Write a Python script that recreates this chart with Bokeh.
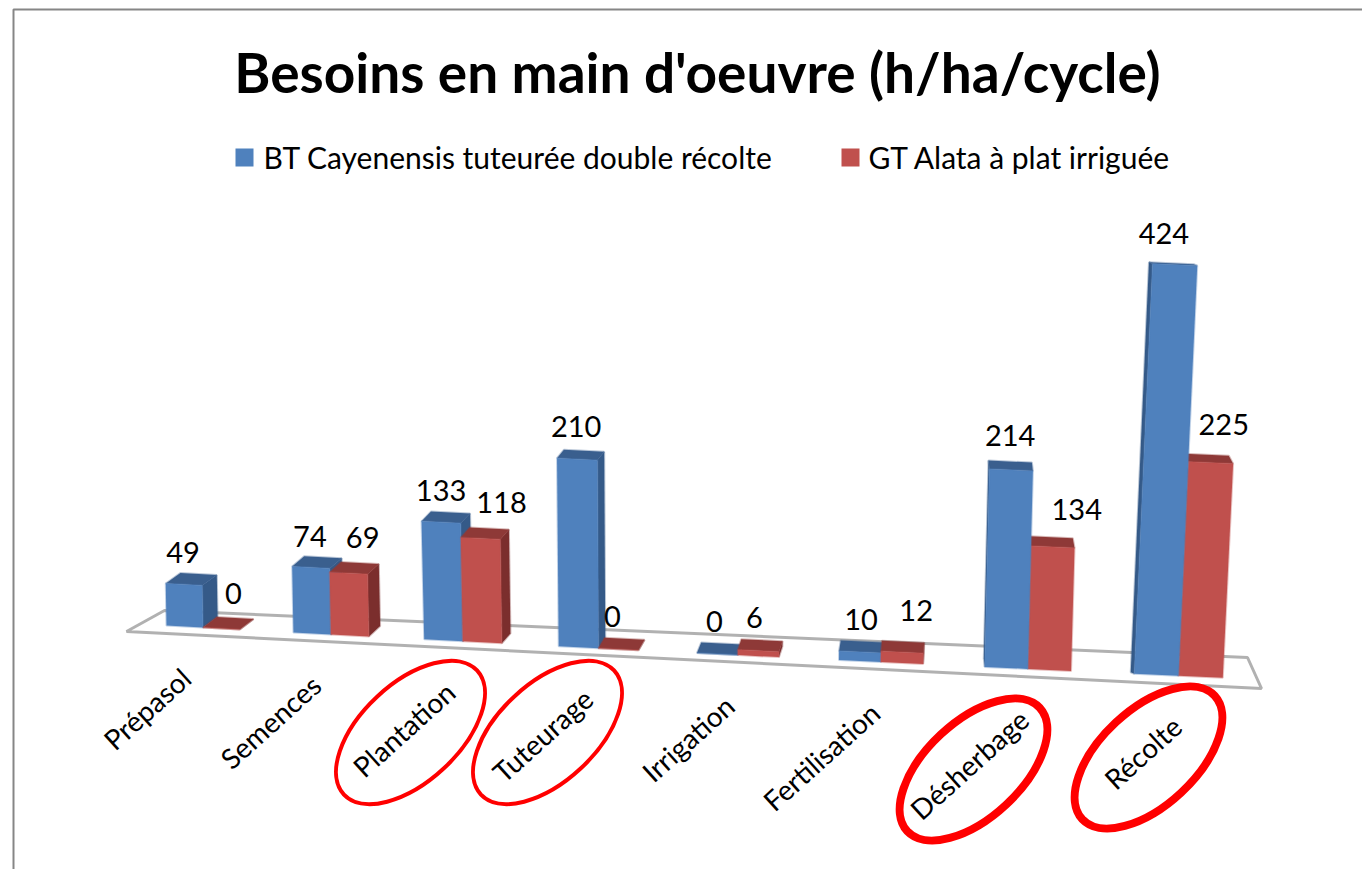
from bokeh.plotting import figure, ColumnDataSource
from bokeh.models import Range1d
from bokeh.embed import file_html
from bokeh.resources import INLINE
from bokeh.core.properties import value
import numpy as np

TITLE = "Besoins en main d'oeuvre (h/ha/cycle)"
CATEGORIES = ["Prépasol", "Semences", "Plantation", "Tuteurage", "Irrigation", "Fertilisation", "Désherbage", "Récolte"]
SERIES_BLUE = "BT Cayenensis tuteurée double récolte"
SERIES_RED = "GT Alata à plat irriguée"
BLUE_VALUES = [49, 74, 133, 210, 0, 10, 214, 424]
RED_VALUES = [0, 69, 118, 0, 6, 12, 134, 225]

# ---- layout of the perspective view (not data) ----
K_BLUE = [0.857, 0.89, 0.887, 0.895, 0.9, 0.9, 0.925, 0.967]
K_RED = [0.88, 0.9, 0.88, 0.9, 0.9, 0.9, 0.918, 0.951]
LABEL_OFF_BLUE = [(-1, -32), (-1, -31), (0, -32), (-1, -33), (-3, -33), (1, -33), (-1, -34), (-11, -31)]
LABEL_OFF_RED = [(12, -35), (14, -36), (21, -36), (-6, -33), (-4, -33), (14, -42), (24, -37), (13, -38)]
BAR_W = 0.29
LEAN_KNOTS_X = [0, 2, 3, 6, 6.6, 7, 7.6]
LEAN_KNOTS_V = [-0.015, -0.02, -0.008, 0.022, 0.026, 0.043, 0.046]
C_BLUE = ("#4F81BD", "#3A5F8E", "#355A88")
C_RED = ("#C0504D", "#8E3937", "#7B2E2D")


def bx(X):
    return 166 + 125.1 * X + 1.88 * X * X


def by(X):
    return 625 + 6.9 * X


def lean(X):
    return float(np.interp(X, LEAN_KNOTS_X, LEAN_KNOTS_V))


def depth(X, v):
    return 15 - 2.6 * X, -max(1.5, 10.5 * (1 - (v / 440) ** 2.2))


def bar_faces(X, v, k):
    x0, x1 = X, X + BAR_W
    bl = (bx(x0), by(x0))
    br = (bx(x1), by(x1))
    tl = (bl[0] + lean(x0) * v, bl[1] - v * k)
    tr = (br[0] + lean(x1) * v, br[1] - v * k)
    dx, dy = depth(X + BAR_W / 2, v)
    s = lambda p: (p[0] + dx, p[1] + dy)
    front = [bl, br, tr, tl]
    top = [tl, tr, s(tr), s(tl)]
    side = [br, s(br), s(tr), tr] if dx > 0 else [bl, s(bl), s(tl), tl]
    return front, top, side, ((tl[0] + tr[0]) / 2, (tl[1] + tr[1]) / 2)


p = figure(width=1362, height=869, output_backend="svg", toolbar_location=None,
           x_range=Range1d(0, 1362), y_range=Range1d(869, 0), min_border=0,
           outline_line_color=None, background_fill_color="white", x_axis_location=None, y_axis_location=None)
p.grid.visible = False

# frame
p.line([13, 13, 1362], [869, 9, 9], line_color="#868686", line_width=2)

# floor
p.patch([126, 164, 1247, 1261], [631, 610, 657, 688], fill_color="white",
        line_color="#A9A9A9", line_width=3, line_alpha=0.9)

xs, ys, fills = [], [], []
lab_x, lab_y, lab_t = [], [], []


def add_poly(pts, c):
    xs.append([q[0] for q in pts])
    ys.append([q[1] for q in pts])
    fills.append(c)


for i in range(len(CATEGORIES)):
    items = [(i, BLUE_VALUES[i], K_BLUE[i], C_BLUE, LABEL_OFF_BLUE[i]),
             (i + BAR_W, RED_VALUES[i], K_RED[i], C_RED, LABEL_OFF_RED[i])]
    if depth(i, 0)[0] < 2:
        items = items[::-1]
    for X, v, k, col, off in items:
        front, top, side, anchor = bar_faces(X, v, k)
        add_poly(side, col[2])
        add_poly(top, col[1])
        add_poly(front, col[0])
        lab_x.append(anchor[0] + off[0])
        lab_y.append(anchor[1] + off[1])
        lab_t.append(str(v))

src = ColumnDataSource(dict(xs=xs, ys=ys, fill=fills))
p.patches("xs", "ys", source=src, fill_color="fill", line_color="fill", line_width=2, line_alpha=0.35)

font = value("Lato")
p.text(lab_x, lab_y, text=lab_t, text_font=font, text_font_size="29px", text_align="center",
       text_baseline="middle", text_color="#000000")

# category labels
cx = [bx(i + BAR_W) - 17 + 2.2 * i for i in range(len(CATEGORIES))]
cy = [by(i + BAR_W) + 46 for i in range(len(CATEGORIES))]
p.text(cx, cy, text=CATEGORIES, angle=42, angle_units="deg", text_font=font, text_font_size="28px",
       text_align="right", text_baseline="middle", text_color="#000000")

# highlight rings
p.ellipse([410, 547], [732, 732], width=182, height=98, angle=43, angle_units="deg",
          fill_color=None, line_color="#FF0000", line_width=4)
p.ellipse([973, 1148], [769, 757], width=181, height=96, angle=43, angle_units="deg",
          fill_color=None, line_color="#FF0000", line_width=8)

# title
p.text([697], [71], text=[TITLE], text_font=font, text_font_style="bold", text_font_size="55px",
       text_align="center", text_baseline="middle", text_color="#000000")

# legend
p.scatter([244, 850], [157, 157], marker="square", size=18, fill_color=[C_BLUE[0], C_RED[0]], line_color=None)
p.text([263, 868], [156, 156], text=[SERIES_BLUE, SERIES_RED], text_font=font, text_font_size="30px",
       text_align="left", text_baseline="middle", text_color="#000000")

open("out.html", "w").write(file_html(p, INLINE))
